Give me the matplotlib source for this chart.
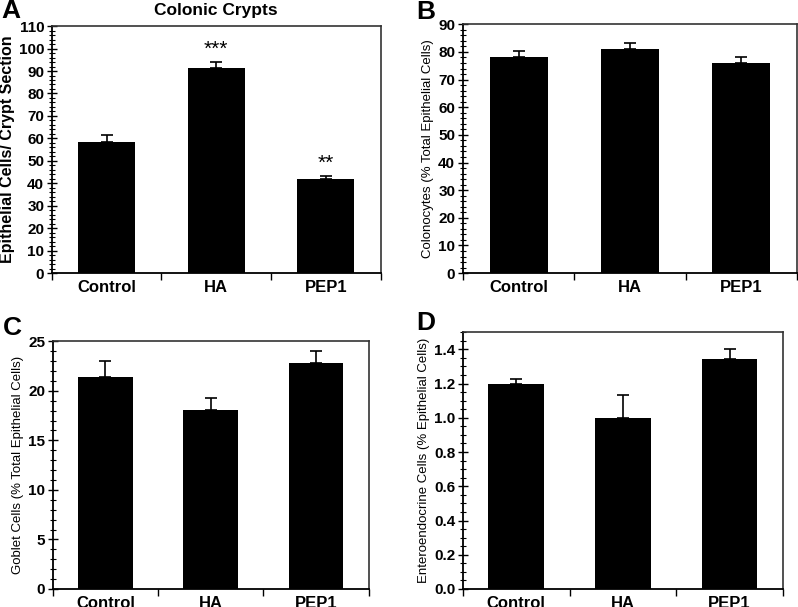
import matplotlib.pyplot as plt
from matplotlib.ticker import MultipleLocator, FixedLocator, NullFormatter

plt.rcParams['font.family'] = ['Liberation Sans', 'DejaVu Sans']

groups = ['Control', 'HA', 'PEP1']

# panel A: epithelial cells per crypt section
cells = [58.5, 91.3, 42.0]
cells_err = [3.2, 2.5, 1.3]
cells_sig = ['', '***', '**']

# panel B: colonocytes (% total epithelial cells)
colono = [78.0, 81.0, 76.0]
colono_err = [2.2, 2.2, 2.3]

# panel C: goblet cells (% total epithelial cells)
goblet = [21.4, 18.1, 22.8]
goblet_err = [1.6, 1.2, 1.2]

# panel D: enteroendocrine cells (% epithelial cells)
entero = [1.2, 1.0, 1.345]
entero_err = [0.025, 0.135, 0.055]

fig = plt.figure(figsize=(7.98, 6.07), dpi=100)


def panel(rect, vals, errs, ymax, major, minor, ylabel, ylab_size, ylab_bold,
          letter, letter_xy, fmt=None):
    ax = fig.add_axes(rect)
    x = [1, 2, 3]
    ax.bar(x, vals, width=0.52, color='black', zorder=2)
    ax.errorbar(x, vals, yerr=[[0] * 3, errs], fmt='none', ecolor='black',
                elinewidth=1.2, capsize=4, capthick=1.2, zorder=3)
    ax.set_xlim(0.5, 3.5)
    ax.set_ylim(0, ymax)
    ax.yaxis.set_major_locator(MultipleLocator(major))
    ax.yaxis.set_minor_locator(MultipleLocator(minor))
    if fmt:
        ax.yaxis.set_major_formatter(fmt)
    ax.xaxis.set_major_locator(FixedLocator([0.5, 1.5, 2.5, 3.5]))
    ax.xaxis.set_major_formatter(NullFormatter())
    ax.xaxis.set_minor_locator(FixedLocator(x))
    ax.set_xticklabels(groups, minor=True, fontsize=12, fontweight='bold')
    ax.tick_params(axis='x', which='minor', length=0, pad=5)
    ax.tick_params(axis='x', which='major', direction='out', length=5, width=1)
    ax.tick_params(axis='y', which='major', direction='inout', length=7, width=1,
                   labelsize=11, pad=2)
    ax.tick_params(axis='y', which='minor', direction='inout', length=4, width=0.8)
    for lbl in ax.get_yticklabels():
        lbl.set_fontweight('bold')
    ax.spines['left'].set_linewidth(1.3)
    ax.spines['bottom'].set_linewidth(1.3)
    ax.spines['top'].set_linewidth(1.2)
    ax.spines['right'].set_linewidth(1.2)
    ax.spines['top'].set_color('#333333')
    ax.spines['right'].set_color('#333333')
    ax.set_ylabel(ylabel, fontsize=ylab_size,
                  fontweight='bold' if ylab_bold else 'normal', labelpad=3)
    fig.text(letter_xy[0], letter_xy[1], letter, fontsize=19,
             fontweight='bold', va='center', ha='left')
    return ax


axA = panel([0.065, 0.550, 0.412, 0.407], cells, cells_err, 110, 10, 2,
            'Epithelial Cells/ Crypt Section', 11.5, True, 'A', (0.002, 0.982))
axA.set_title('Colonic Crypts', fontsize=12.5, fontweight='bold', pad=8)
for xi, v, e, s in zip([1, 2, 3], cells, cells_err, cells_sig):
    if s:
        axA.text(xi, v + e + 1.5, s, ha='center', va='bottom', fontsize=15)

panel([0.580, 0.550, 0.419, 0.410], colono, colono_err, 90, 10, 2,
      'Colonocytes (% Total Epithelial Cells)', 9.5, False, 'B', (0.522, 0.980))

panel([0.066, 0.0297, 0.396, 0.408], goblet, goblet_err, 25, 5, 1,
      'Goblet Cells (% Total Epithelial Cells)', 9.5, False, 'C', (0.003, 0.460))

panel([0.580, 0.0297, 0.401, 0.423], entero, entero_err, 1.5, 0.2, 0.05,
      'Enteroendocrine Cells (% Epithelial Cells)', 9.5, False, 'D', (0.522, 0.468),
      fmt=plt.FormatStrFormatter('%.1f'))

fig.savefig('out.png', dpi=100)
